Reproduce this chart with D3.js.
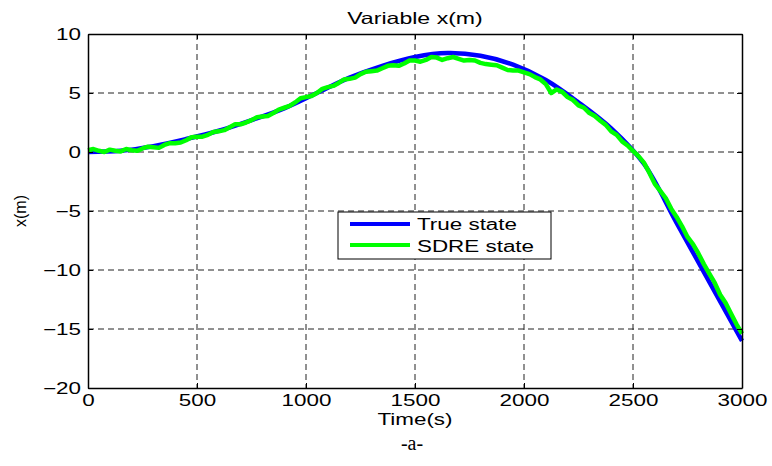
<!DOCTYPE html>
<html>
<head>
<meta charset="utf-8">
<script src="https://cdn.jsdelivr.net/npm/d3@7"></script>
<style>
  body { margin: 0; background: #fff; }
  text { font-family: "Liberation Sans", Arial, sans-serif; fill: #000; }
</style>
</head>
<body>
<div id="chart"></div>
<script>
// time axis / ticks
const xTicks = [0, 500, 1000, 1500, 2000, 2500, 3000];
const yTicks = [-20, -15, -10, -5, 0, 5, 10];

// true state, read every 150 s
const trueTime = [0, 150, 300, 450, 600, 750, 900, 1050, 1200, 1350, 1500,
  1650, 1800, 1950, 2100, 2250, 2400, 2550, 2700, 2850, 3000];
const trueState = [0, 0.1, 0.5, 1.1, 1.8, 2.7, 3.7, 5.0, 6.3, 7.3, 8.05,
  8.38, 8.15, 7.4, 6.1, 4.2, 2.0, -1.0, -6.0, -11.0, -16.0];

// SDRE estimate, read every 25 s (noisy)
const sdreTime = d3.range(0, 3001, 25);
const sdreState = [
  0.15, 0.25, 0.1, 0.0, 0.2, 0.1, 0.05, 0.25, 0.15, 0.1,       // 0-225
  0.3, 0.45, 0.4, 0.35, 0.6, 0.75, 0.75, 0.8, 1.0, 1.25,       // 250-475
  1.3, 1.3, 1.45, 1.7, 1.75, 1.85, 2.1, 2.35, 2.35, 2.5,       // 500-725
  2.7, 2.95, 3.0, 3.05, 3.3, 3.6, 3.75, 3.9, 4.2, 4.55,        // 750-975
  4.65, 4.75, 5.0, 5.35, 5.5, 5.6, 5.85, 6.15, 6.2, 6.3,       // 1000-1225
  6.6, 6.8, 6.85, 6.9, 7.1, 7.3, 7.35, 7.3, 7.5, 7.75,         // 1250-1475
  7.75, 7.65, 7.8, 8.05, 8.0, 7.8, 7.95, 8.05, 7.9, 7.75,      // 1500-1725
  7.8, 7.75, 7.55, 7.45, 7.4, 7.35, 7.15, 6.95, 6.9, 6.9,      // 1750-1975
  6.75, 6.6, 6.35, 6.15, 5.75, 5.0, 5.3, 5.1, 4.65, 4.4,       // 2000-2225
  3.95, 3.75, 3.3, 3.05, 2.65, 2.3, 1.75, 1.45, 0.9, 0.55,     // 2250-2475
  0.1, -0.35, -0.9, -1.75, -2.7, -3.3, -3.9, -4.8, -5.5, -6.3, // 2500-2725
  -7.2, -7.8, -8.6, -9.5, -10.3, -11.1, -12.1, -12.8, -13.7, -14.6, // 2750-2975
  -15.4];

const width = 772, height = 466;
const margin = { top: 34, right: 30, bottom: 78, left: 88 };
const iw = width - margin.left - margin.right;
const ih = height - margin.top - margin.bottom;
const stretch = 1.4; // the source figure is widened horizontally

const svg = d3.select('#chart').append('svg')
  .attr('width', width)
  .attr('height', height);

const g = svg.append('g')
  .attr('transform', `translate(${margin.left},${margin.top})`);

const x = d3.scaleLinear().domain([0, 3000]).range([0, iw]);
const y = d3.scaleLinear().domain([-20, 10]).range([ih, 0]);

// dashed grid
g.append('g').selectAll('line')
  .data(xTicks.slice(1, -1))
  .join('line')
  .attr('x1', d => x(d)).attr('x2', d => x(d))
  .attr('y1', 0).attr('y2', ih)
  .attr('stroke', '#222').attr('stroke-dasharray', '6,4');
g.append('g').selectAll('line')
  .data(yTicks.slice(1, -1))
  .join('line')
  .attr('y1', d => y(d)).attr('y2', d => y(d))
  .attr('x1', 0).attr('x2', iw)
  .attr('stroke', '#222').attr('stroke-dasharray', '6,4');

// lines
const lineTrue = d3.line()
  .x((d, i) => x(trueTime[i]))
  .y(d => y(d))
  .curve(d3.curveCatmullRom);
const lineSdre = d3.line()
  .x((d, i) => x(sdreTime[i]))
  .y(d => y(d));

g.append('path').datum(trueState)
  .attr('d', lineTrue)
  .attr('fill', 'none').attr('stroke', '#0000ff').attr('stroke-width', 4.5);
g.append('path').datum(sdreState)
  .attr('d', lineSdre)
  .attr('fill', 'none').attr('stroke', '#00ff00').attr('stroke-width', 4.5)
  .attr('stroke-linejoin', 'round');

// axes with inner ticks, MATLAB style box
const fmt = d3.format('d');
const xAxis = g.append('g').attr('transform', `translate(0,${ih})`)
  .call(d3.axisBottom(x).tickValues(xTicks).tickFormat(fmt).tickSizeInner(-5).tickSizeOuter(0).tickPadding(7));
const xTop = g.append('g')
  .call(d3.axisTop(x).tickValues(xTicks).tickFormat('').tickSizeInner(-5).tickSizeOuter(0));
const yAxis = g.append('g')
  .call(d3.axisLeft(y).tickValues(yTicks).tickFormat(fmt).tickSizeInner(-5).tickSizeOuter(0).tickPadding(7));
const yRight = g.append('g').attr('transform', `translate(${iw},0)`)
  .call(d3.axisRight(y).tickValues(yTicks).tickFormat('').tickSizeInner(-5).tickSizeOuter(0));

[xAxis, xTop, yAxis, yRight].forEach(a => {
  a.select('.domain').attr('stroke', '#000').attr('stroke-width', 1.5);
  a.selectAll('.tick line').attr('stroke', '#000');
  a.selectAll('.tick text').attr('class', 'wide').style('font-size', '16px')
    .style('font-family', '"Liberation Sans", Arial, sans-serif');
});

// titles
svg.append('text').attr('class', 'wide')
  .attr('x', margin.left + iw / 2).attr('y', 24)
  .attr('text-anchor', 'middle').style('font-size', '16.5px')
  .text('Variable x(m)');
svg.append('text').attr('class', 'wide')
  .attr('x', margin.left + iw / 2).attr('y', 425)
  .attr('text-anchor', 'middle').style('font-size', '16px')
  .text('Time(s)');
svg.append('text')
  .attr('transform', `translate(26,${margin.top + y(-5)}) rotate(-90)`)
  .attr('text-anchor', 'middle').style('font-size', '16px')
  .text('x(m)');
svg.append('text')
  .attr('x', 412).attr('y', 450)
  .attr('text-anchor', 'middle')
  .style('font-family', '"Liberation Serif", "Times New Roman", serif')
  .style('font-size', '20px')
  .text('-a-');

// legend
const legendItems = [
  { label: 'True state', color: '#0000ff' },
  { label: 'SDRE state', color: '#00ff00' }
];
const lg = svg.append('g').attr('transform', 'translate(338,212)');
lg.append('rect')
  .attr('width', 213).attr('height', 47)
  .attr('fill', '#fff').attr('stroke', '#000').attr('stroke-width', 1);
lg.selectAll('line.item')
  .data(legendItems).join('line')
  .attr('class', 'item')
  .attr('x1', 12).attr('x2', 72)
  .attr('y1', (d, i) => 12 + i * 21).attr('y2', (d, i) => 12 + i * 21)
  .attr('stroke', d => d.color).attr('stroke-width', 4);
lg.selectAll('text')
  .data(legendItems).join('text')
  .attr('class', 'wide')
  .attr('x', 79)
  .attr('y', (d, i) => 18 + i * 22)
  .style('font-size', '16px')
  .text(d => d.label);

// widen horizontal texts like the source picture
svg.selectAll('text.wide').each(function () {
  const w = this.getComputedTextLength();
  d3.select(this).attr('textLength', w * stretch).attr('lengthAdjust', 'spacingAndGlyphs');
});
</script>
</body>
</html>
